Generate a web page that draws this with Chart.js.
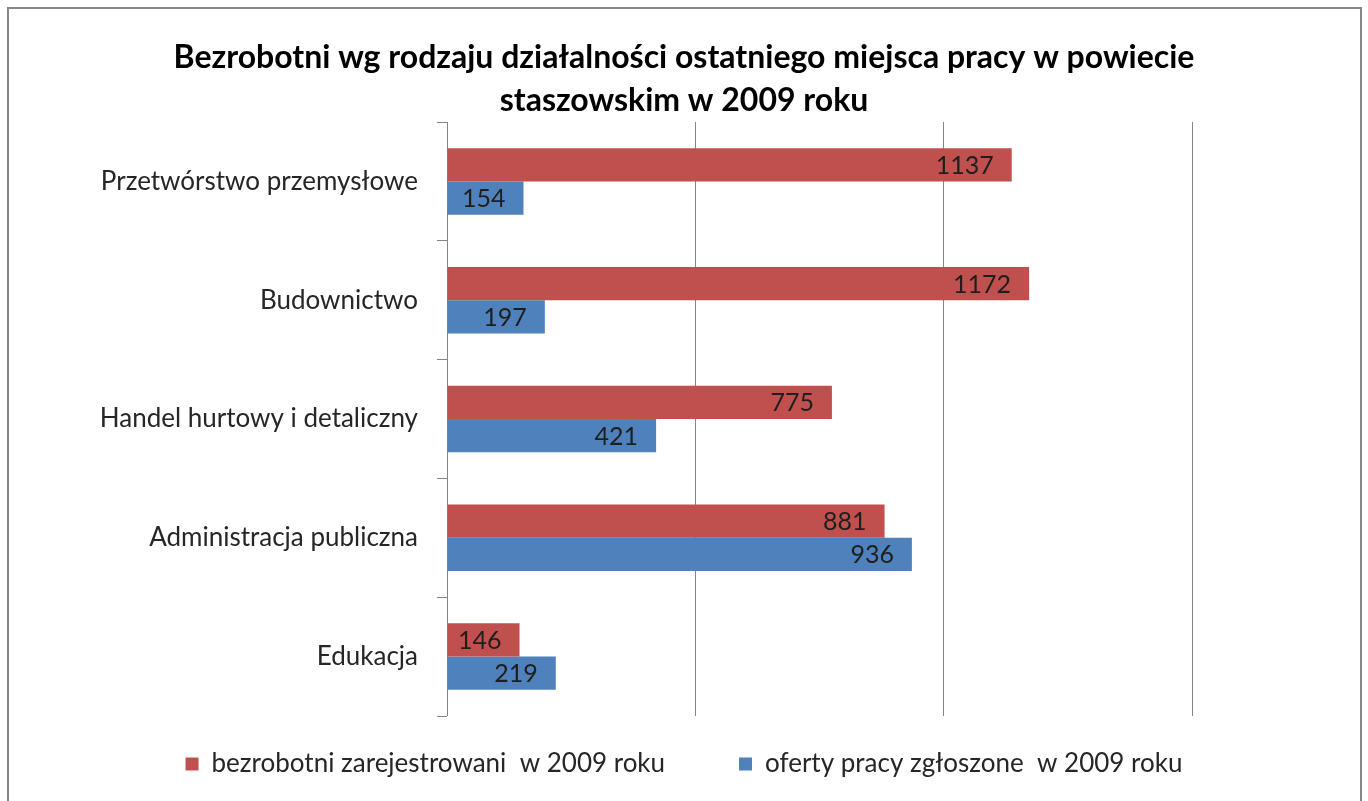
<!DOCTYPE html>
<html>
<head>
<meta charset="utf-8">
<script src="https://cdn.jsdelivr.net/npm/chart.js@4"></script>
<style>
    html, body { margin: 0; padding: 0; background: #fff; }
    #wrap { position: absolute; left: 0; top: 0; width: 1368px; height: 801px; }
</style>
</head>
<body>
<div id="wrap"><canvas id="chart" width="1368" height="801"></canvas></div>
<script>
const categories = ['Przetwórstwo przemysłowe', 'Budownictwo', 'Handel hurtowy i detaliczny', 'Administracja publiczna', 'Edukacja'];
const registered = [1137, 1172, 775, 881, 146];
const offers = [154, 197, 421, 936, 219];
const seriesNames = ['bezrobotni zarejestrowani  w 2009 roku', 'oferty pracy zgłoszone  w 2009 roku'];
const titleLines = ['Bezrobotni wg rodzaju działalności ostatniego miejsca pracy w powiecie', 'staszowskim w 2009 roku'];
const xTicks = [0, 500, 1000, 1500];

const FONT = 'Lato, "Open Sans", sans-serif';
const AXIS_GREY = '#868686';

// frame round the whole chart
const framePlugin = {
    id: 'frame',
    beforeDraw: (chart) => {
        const ctx = chart.ctx;
        ctx.save();
        ctx.fillStyle = '#fff';
        ctx.fillRect(0, 0, chart.width, chart.height);
        ctx.strokeStyle = '#888';
        ctx.lineWidth = 2;
        ctx.strokeRect(8, 8, 1353, 810);
        ctx.restore();
    }
};

// value labels inside the end of each bar
const valueLabels = {
    id: 'valueLabels',
    afterDatasetsDraw: (chart) => {
        const ctx = chart.ctx;
        ctx.save();
        ctx.font = '25px ' + FONT;
        ctx.fillStyle = '#1e1e1e';
        ctx.textAlign = 'right';
        ctx.textBaseline = 'middle';
        chart.data.datasets.forEach((ds, i) => {
            chart.getDatasetMeta(i).data.forEach((bar, j) => {
                ctx.fillText(ds.data[j], bar.x - 18, bar.y + 1);
            });
        });
        ctx.restore();
    }
};

new Chart(document.getElementById('chart'), {
    type: 'bar',
    data: {
        labels: categories,
        datasets: [{
            label: seriesNames[0],
            data: registered,
            backgroundColor: '#C0504D'
        }, {
            label: seriesNames[1],
            data: offers,
            backgroundColor: '#4F81BD'
        }]
    },
    options: {
        indexAxis: 'y',
        responsive: false,
        animation: false,
        devicePixelRatio: 1,
        layout: { padding: { left: 0, right: 0, top: 0, bottom: 14 } },
        datasets: {
            bar: { categoryPercentage: 0.56, barPercentage: 1 }
        },
        scales: {
            x: {
                min: 0,
                max: 1500,
                afterBuildTicks: (scale) => { scale.ticks = xTicks.map(v => ({ value: v })); },
                afterFit: (scale) => { scale.height = 1; },
                ticks: { display: false },
                grid: { color: AXIS_GREY, lineWidth: 1, drawTicks: false },
                border: { display: false }
            },
            y: {
                afterFit: (scale) => { scale.width = 447; },
                ticks: {
                    color: '#262626',
                    font: { family: FONT, size: 26 },
                    padding: 19
                },
                grid: { drawOnChartArea: false, color: AXIS_GREY, tickLength: 10, offset: true },
                border: { color: AXIS_GREY, width: 1 }
            },
            y2: {
                position: 'right',
                afterFit: (scale) => { scale.width = 176; },
                ticks: { display: false },
                grid: { display: false },
                border: { display: false }
            }
        },
        plugins: {
            title: {
                display: true,
                text: titleLines,
                color: '#000',
                font: { family: FONT, size: 32, weight: 'bold', lineHeight: 1.344 },
                padding: { top: 36, bottom: 0 }
            },
            legend: {
                position: 'bottom',
                labels: {
                    color: '#262626',
                    font: { family: FONT, size: 26 },
                    boxWidth: 13,
                    boxHeight: 13,
                    padding: 34,
                    generateLabels: (chart) => {
                        const items = Chart.defaults.plugins.legend.labels.generateLabels(chart);
                        items[0].text = items[0].text + '      ';
                        items.forEach(it => { it.lineWidth = 0; });
                        return items;
                    }
                }
            },
            tooltip: { enabled: false }
        }
    },
    plugins: [framePlugin, valueLabels]
});
</script>
</body>
</html>
